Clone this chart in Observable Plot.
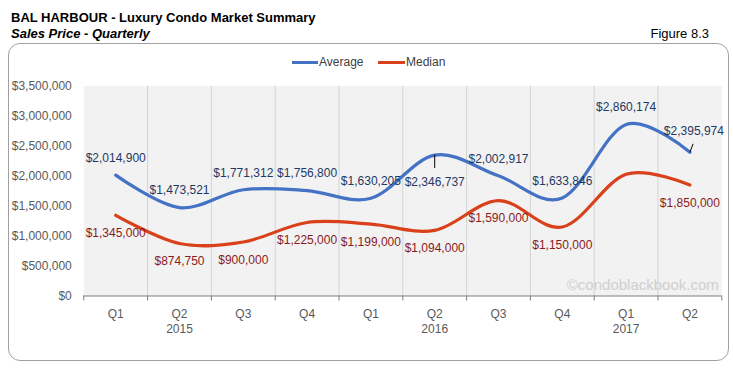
<!DOCTYPE html>
<html>
<head>
<meta charset="utf-8">
<script src="https://cdn.jsdelivr.net/npm/d3@7"></script>
<script src="https://cdn.jsdelivr.net/npm/@observablehq/plot@0.6"></script>
<style>
  body { margin: 0; background: #fff; }
  #wrap { position: relative; width: 733px; height: 370px; font-family: "Liberation Sans", Arial, sans-serif; overflow: hidden; }
  .t { position: absolute; white-space: nowrap; line-height: 15px; font-size: 13px; color: #000; }
  #box { position: absolute; left: 8px; top: 43px; width: 721px; height: 318px; box-sizing: border-box; border: 1px solid #a0a0a0; border-radius: 12px; background: #fff; }
  #chart { position: absolute; left: 0; top: 0; }
  .leg { position: absolute; top: 55px; height: 15px; line-height: 15px; font-size: 12px; color: #404040; }
  .sw { position: absolute; height: 3px; top: 61px; }
</style>
</head>
<body>
<div id="wrap">
  <div id="box"></div>
  <div class="t" style="left:11px;top:10px;font-weight:bold;">BAL HARBOUR - Luxury Condo Market Summary</div>
  <div class="t" style="left:11px;top:26px;font-weight:bold;font-style:italic;">Sales Price - Quarterly</div>
  <div class="t" style="right:24px;top:26px;">Figure 8.3</div>
  <div id="chart"></div>
  <div class="sw" style="left:292px;width:26px;background:#4472c4;"></div>
  <div class="leg" style="left:319px;">Average</div>
  <div class="sw" style="left:378px;width:27px;background:#d9411a;"></div>
  <div class="leg" style="left:406px;">Median</div>
</div>
<script>
const quarters = ["Q1","Q2","Q3","Q4","Q1","Q2","Q3","Q4","Q1","Q2"];
const yearOf   = ["2015","2015","2015","2015","2016","2016","2016","2016","2017","2017"];
const average  = [2014900,1473521,1771312,1756800,1630205,2346737,2002917,1633846,2860174,2395974];
const median   = [1345000,874750,900000,1225000,1199000,1094000,1590000,1150000,2030000,1850000];
const yTicks   = [0,500000,1000000,1500000,2000000,2500000,3000000,3500000];
const watermark = "©condoblackbook.com";

const money = d => "$" + d3.format(",")(d);
const rows = quarters.map((q, i) => ({i, x: i + 0.5, q, year: yearOf[i], avg: average[i], med: median[i]}));
// year label under the (floored) middle of each year's group
const years = d3.groups(rows, d => d.year).map(([year, g]) => ({year, x: Math.floor(d3.mean(g, d => d.i)) + 0.5}));

const avgAbove = rows.filter(d => d.i !== 5 && d.i !== 9);
const avgBelow = rows.filter(d => d.i === 5);
const avgRight = rows.filter(d => d.i === 9);
const medLabels = rows.filter(d => d.i !== 8);

const fontFam = "'Liberation Sans', Arial, sans-serif";
const chart = Plot.plot({
  width: 733,
  height: 370,
  marginLeft: 83.3,
  marginRight: 11.7,
  marginTop: 85.5,
  marginBottom: 74.5,
  x: {domain: [0, 10], axis: null, label: null},
  y: {domain: [0, 3500000], axis: null, label: null},
  style: {fontFamily: fontFam, fontSize: "12px", background: "transparent", overflow: "visible"},
  marks: [
    Plot.frame({fill: "#f2f2f2", stroke: null}),
    Plot.ruleX(d3.range(1, 10), {stroke: "#d4d4d4", strokeWidth: 1}),
    Plot.axisY({ticks: yTicks, tickSize: 0, tickPadding: 12, tickFormat: money, fill: "#595959", fontSize: 12, label: null}),
    Plot.axisX({ticks: d3.range(0, 11), tickSize: 5, tickFormat: () => "", stroke: "#7f7f7f", label: null}),
    Plot.ruleY([0], {stroke: "#7f7f7f"}),
    Plot.text(rows, {x: "x", text: "q", frameAnchor: "bottom", lineAnchor: "middle", dy: 18.5, fill: "#595959", fontSize: 12}),
    Plot.text(years, {x: "x", text: "year", frameAnchor: "bottom", lineAnchor: "middle", dy: 33.5, fill: "#595959", fontSize: 12}),
    Plot.text([watermark], {frameAnchor: "bottom-right", textAnchor: "end", lineAnchor: "middle", dx: -3, dy: -11, fill: "#cfcfcf", fontSize: 15}),
    Plot.line(rows, {x: "x", y: "avg", stroke: "#4472c4", strokeWidth: 3.2, curve: "cardinal", tension: 0}),
    Plot.line(rows, {x: "x", y: "med", stroke: "#d9411a", strokeWidth: 3.2, curve: "cardinal", tension: 0}),
    Plot.ruleX(avgBelow, {x: "x", y1: "avg", y2: d => d.avg - 220000, stroke: "#000", strokeWidth: 1}),
    Plot.link(avgRight, {x1: "x", y1: "avg", x2: d => d.x + 0.05, y2: d => d.avg + 140000, stroke: "#000", strokeWidth: 1}),
    Plot.text(avgAbove, {x: "x", y: "avg", text: d => money(d.avg), dy: -17, fill: "#1f3864", fontSize: 12}),
    Plot.text(avgBelow, {x: "x", y: "avg", text: d => money(d.avg), dy: 27, fill: "#1f3864", fontSize: 12}),
    Plot.text(avgRight, {x: "x", y: "avg", text: d => money(d.avg), dx: 4, dy: -21, fill: "#1f3864", fontSize: 12}),
    Plot.text(medLabels, {x: "x", y: "med", text: d => money(d.med), dy: 18, fill: "#8b1a1a", fontSize: 12})
  ]
});
document.getElementById("chart").appendChild(chart);
</script>
</body>
</html>
